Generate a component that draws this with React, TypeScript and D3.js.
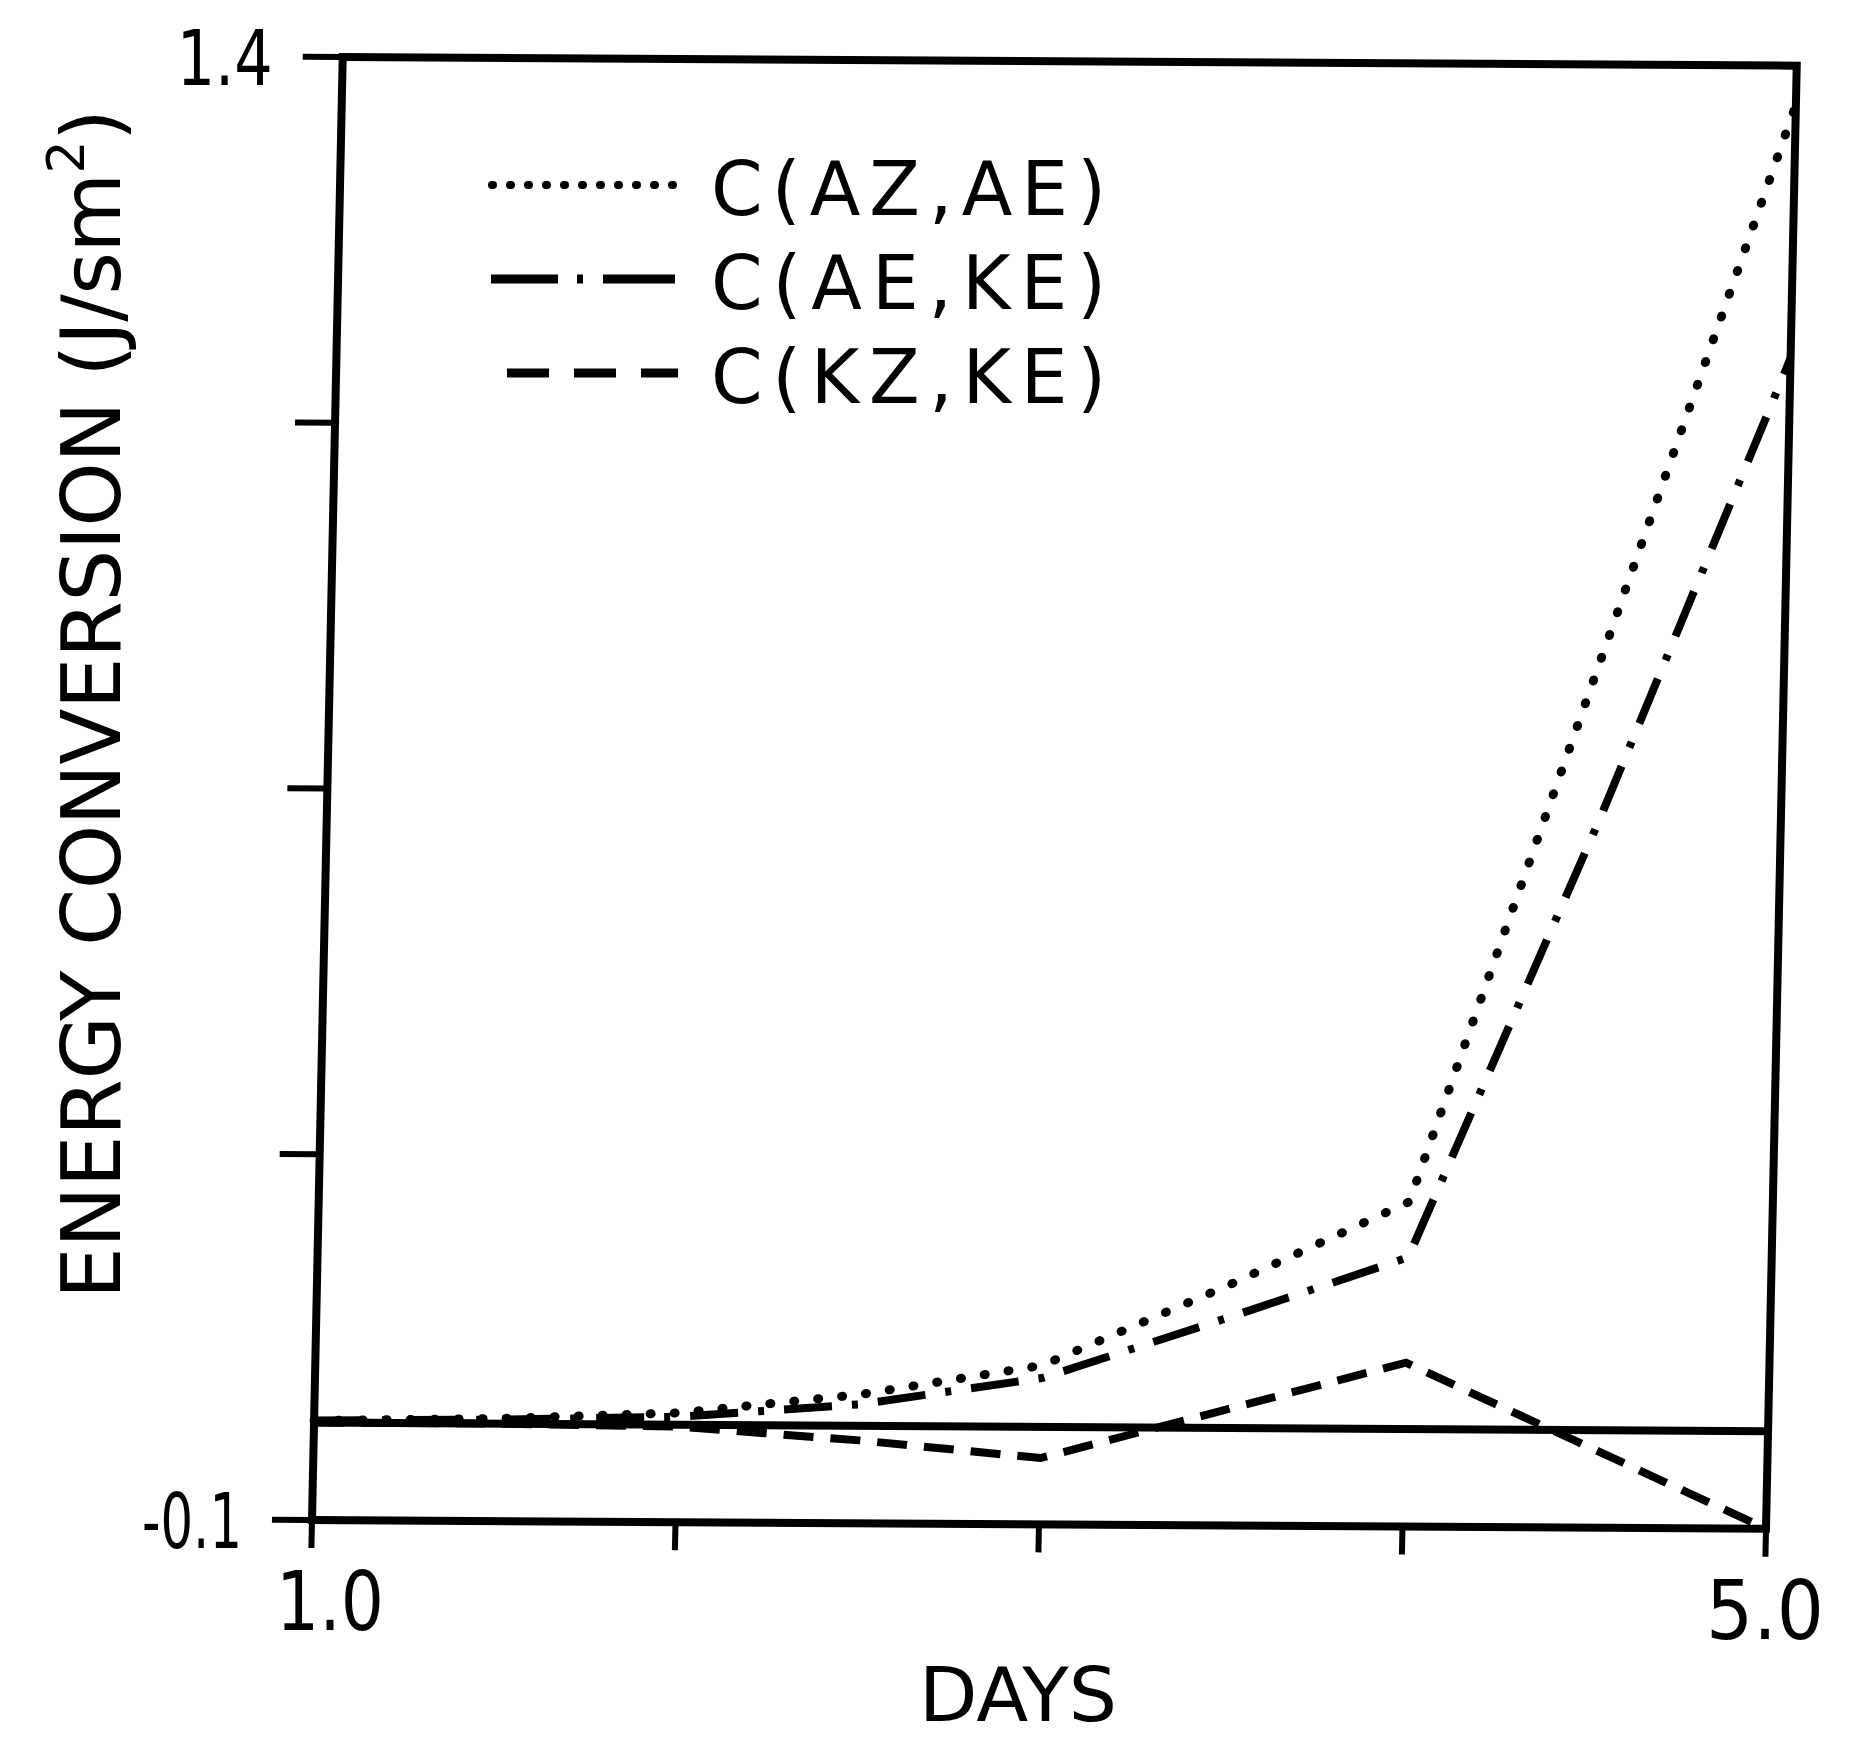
import React from "react";
import * as d3 from "d3";

// ---- data ----
const days = [1.0, 1.5, 2.0, 2.5, 3.0, 3.5, 4.0, 4.5, 5.0];
const cAzAe = [0.002, 0.005, 0.012, 0.032, 0.063, 0.145, 0.233, 0.795, 1.36];
const cAeKe = [0.002, 0.004, 0.008, 0.022, 0.05, 0.112, 0.176, 0.625, 1.1];
const cKzKe = [0.0, 0.0, -0.002, -0.015, -0.032, 0.018, 0.068, -0.016, -0.1];
const seriesNames = ["C(AZ,AE)", "C(AE,KE)", "C(KZ,KE)"];
const xTicks = [1, 2, 3, 4, 5];
const xTickLabels = ["1.0", "", "", "", "5.0"];
const yTicks = [-0.1, 0.275, 0.65, 1.025, 1.4];
const yTickLabels = ["-0.1", "", "", "", "1.4"];
const xTitle = "DAYS";
const yTitleMain = "ENERGY CONVERSION (J/sm";
const yTitleSup = "2";
const yTitleEnd = ")";

// ---- layout ----
const W = 1858;
const H = 1741;
const PW = 1454;
const PH = 1463;
const X0 = 312;
const Y0 = 57;
const SKEW_X = 0.021;
const SKEW_Y = 0.006;
const FONT = "'DejaVu Sans', 'Liberation Sans', sans-serif";

const curveStyles = [
  { dash: "1 23", width: 9, cap: "round" },
  { dash: "48 20 6 20", width: 8, cap: "butt" },
  { dash: "30 17", width: 8, cap: "butt" },
];
const legendStyles = [
  { dash: "1 17", width: 8, cap: "round", x1: 492 },
  { dash: "67 19 6 20 72", width: 9, cap: "butt", x1: 491 },
  { dash: "42 25", width: 9, cap: "butt", x1: 507 },
];
const yLabelLengths = [100, 0, 0, 0, 96];

export default function App() {
  const x = d3.scaleLinear().domain([1, 5]).range([0, PW]);
  const y = d3.scaleLinear().domain([-0.1, 1.4]).range([PH, 0]);
  const tf = (u: number, v: number): [number, number] => [
    u - SKEW_X * v + X0 + SKEW_X * PH,
    SKEW_Y * u + v + Y0,
  ];
  const line = d3
    .line<number>()
    .x((_, i) => x(days[i]))
    .y((d) => y(d))
    .curve(d3.curveLinear);
  const series = [cAzAe, cAeKe, cKzKe];
  const matrix = `matrix(1, ${SKEW_Y}, ${-SKEW_X}, 1, ${X0 + SKEW_X * PH}, ${Y0})`;

  const legendY0 = 185;
  const legendDy = 94;

  return (
    <svg
      width={W}
      height={H}
      style={{ position: "absolute", left: 0, top: 0, background: "#fff" }}
      fontFamily={FONT}
    >
      <rect x={0} y={0} width={W} height={H} fill="#fff" />
      <g transform={matrix}>
        {/* frame */}
        <rect x={0} y={0} width={PW} height={PH} fill="none" stroke="#000" strokeWidth={8} />
        {/* zero line */}
        <line x1={x(1)} x2={x(5)} y1={y(0)} y2={y(0)} stroke="#000" strokeWidth={8} />
        {/* y ticks */}
        {yTicks.map((t, i) => (
          <line key={"yt" + i} x1={-40} x2={0} y1={y(t)} y2={y(t)} stroke="#000" strokeWidth={6} />
        ))}
        {/* x ticks */}
        {xTicks.map((t, i) => (
          <line key={"xt" + i} x1={x(t)} x2={x(t)} y1={PH} y2={PH + 28} stroke="#000" strokeWidth={6} />
        ))}
        {/* series */}
        {series.map((s, i) => (
          <path
            key={"s" + i}
            d={line(s) || ""}
            fill="none"
            stroke="#000"
            strokeWidth={curveStyles[i].width}
            strokeDasharray={curveStyles[i].dash}
            strokeLinecap={curveStyles[i].cap as any}
          />
        ))}
      </g>

      {/* y tick labels */}
      {yTicks.map((t, i) => {
        if (!yTickLabels[i]) return null;
        const [tx, ty] = tf(-70, y(t));
        return (
          <text
            key={"yl" + i}
            x={tx}
            y={ty + 28}
            fontSize={76}
            textAnchor="end"
            textLength={yLabelLengths[i]}
            lengthAdjust="spacingAndGlyphs"
          >
            {yTickLabels[i]}
          </text>
        );
      })}
      {/* x tick labels */}
      {xTicks.map((t, i) => {
        if (!xTickLabels[i]) return null;
        const [tx, ty] = tf(x(t), PH);
        const first = i === 0;
        return (
          <text
            key={"xl" + i}
            x={first ? tx - 36 : tx + 58}
            y={ty + 110}
            fontSize={82}
            textAnchor={first ? "start" : "end"}
            textLength={first ? 108 : 118}
            lengthAdjust="spacingAndGlyphs"
          >
            {xTickLabels[i]}
          </text>
        );
      })}

      {/* x title */}
      <text x={1018} y={1721} fontSize={74} textAnchor="middle" textLength={198} lengthAdjust="spacingAndGlyphs">
        {xTitle}
      </text>

      {/* y title */}
      <g transform="translate(120, 704) rotate(-90)">
        <text x={0} y={0} fontSize={82} textAnchor="middle" textLength={1190} lengthAdjust="spacing">
          {yTitleMain}
          <tspan fontSize={52} dy={-36}>{yTitleSup}</tspan>
          <tspan dy={36}>{yTitleEnd}</tspan>
        </text>
      </g>

      {/* legend */}
      {seriesNames.map((name, i) => {
        const ly = legendY0 + i * legendDy;
        const st = legendStyles[i];
        return (
          <g key={"lg" + i}>
            <line
              x1={st.x1}
              x2={678}
              y1={ly}
              y2={ly}
              stroke="#000"
              strokeWidth={st.width}
              strokeDasharray={st.dash}
              strokeLinecap={st.cap as any}
            />
            <text x={711} y={ly + 30} fontSize={74} textLength={395} lengthAdjust="spacing">
              {name}
            </text>
          </g>
        );
      })}
    </svg>
  );
}
